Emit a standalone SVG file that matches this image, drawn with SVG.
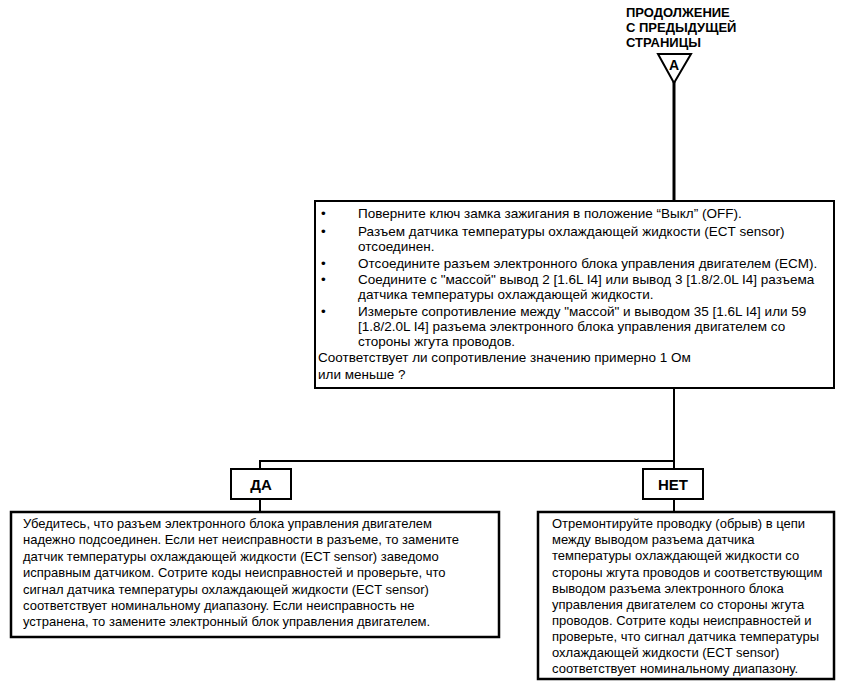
<svg xmlns="http://www.w3.org/2000/svg" width="843" height="681" viewBox="0 0 843 681">
<style>
.t{font-family:"Liberation Sans",Arial,sans-serif;font-size:13px;fill:#000}
.m{font-size:13.5px}
.b{font-family:"Liberation Sans",Arial,sans-serif;font-weight:bold;fill:#000}
.box{fill:#fff;stroke:#000;stroke-width:2}
.ln{fill:none;stroke:#000;stroke-width:2}
</style>
<rect width="843" height="681" fill="#fff"/>
<g id="connectors">
<line class="ln" x1="674" y1="82" x2="674" y2="201" style="stroke-width:3"/>
<polyline class="ln" points="674,388 674,461 260,461 260,469"/>
<line class="ln" x1="674" y1="461" x2="674" y2="469"/>
<line class="ln" x1="260" y1="499" x2="260" y2="512"/>
<line class="ln" x1="674" y1="499" x2="674" y2="512"/>
</g>
<g id="continuation">
<text class="b" font-size="13" x="626" y="17">ПРОДОЛЖЕНИЕ</text>
<text class="b" font-size="13" x="626" y="32">С ПРЕДЫДУЩЕЙ</text>
<text class="b" font-size="13" x="626" y="47">СТРАНИЦЫ</text>
<polygon points="658,54 691,54 674,83" fill="#fff" stroke="#000" stroke-width="2"/>
<text class="b" font-size="14" x="674" y="70" text-anchor="middle">A</text>
</g>
<g id="check">
<rect class="box" x="315" y="201" width="519" height="187"/>
<g class="t m">
<text x="321" y="218">•</text>
<text x="358" y="218">Поверните ключ замка зажигания в положение “Выкл” (OFF).</text>
<text x="321" y="236">•</text>
<text x="358" y="236">Разъем датчика температуры охлаждающей жидкости (ECT sensor)</text>
<text x="358" y="251">отсоединен.</text>
<text x="321" y="268">•</text>
<text x="358" y="268">Отсоедините разъем электронного блока управления двигателем (ECM).</text>
<text x="321" y="284">•</text>
<text x="358" y="284">Соедините с "массой" вывод 2 [1.6L I4] или вывод 3 [1.8/2.0L I4] разъема</text>
<text x="358" y="299">датчика температуры охлаждающей жидкости.</text>
<text x="321" y="316">•</text>
<text x="358" y="316">Измерьте сопротивление между "массой" и выводом 35 [1.6L I4] или 59</text>
<text x="358" y="331">[1.8/2.0L I4] разъема электронного блока управления двигателем со</text>
<text x="358" y="346">стороны жгута проводов.</text>
<text x="318" y="362">Соответствует ли сопротивление значению примерно 1 Ом</text>
<text x="318" y="379">или меньше ?</text>
</g>
</g>
<g id="yes">
<rect class="box" x="231" y="469" width="60" height="30"/>
<text class="b" font-size="15" x="261" y="490" text-anchor="middle">ДА</text>
</g>
<g id="no">
<rect class="box" x="643" y="469" width="60" height="30"/>
<text class="b" font-size="15" x="673" y="490" text-anchor="middle">НЕТ</text>
</g>
<g id="yes-action">
<rect class="box" x="11" y="512" width="488" height="125" style="stroke-width:2.5"/>
<text class="t" x="23" y="528">Убедитесь, что разъем электронного блока управления двигателем</text>
<text class="t" x="23" y="544">надежно подсоединен. Если нет неисправности в разъеме, то замените</text>
<text class="t" x="23" y="561">датчик температуры охлаждающей жидкости (ECT sensor) заведомо</text>
<text class="t" x="23" y="577">исправным датчиком. Сотрите коды неисправностей и проверьте, что</text>
<text class="t" x="23" y="594">сигнал датчика температуры охлаждающей жидкости (ECT sensor)</text>
<text class="t" x="23" y="610">соответствует номинальному диапазону. Если неисправность не</text>
<text class="t" x="23" y="626">устранена, то замените электронный блок управления двигателем.</text>
</g>
<g id="no-action">
<rect class="box" x="538" y="512" width="296" height="167" style="stroke-width:2.5"/>
<text class="t" x="552" y="528">Отремонтируйте проводку (обрыв) в цепи</text>
<text class="t" x="552" y="544">между выводом разъема датчика</text>
<text class="t" x="552" y="560">температуры охлаждающей жидкости со</text>
<text class="t" x="552" y="577">стороны жгута проводов и соответствующим</text>
<text class="t" x="552" y="593">выводом разъема электронного блока</text>
<text class="t" x="552" y="609">управления двигателем со стороны жгута</text>
<text class="t" x="552" y="625">проводов. Сотрите коды неисправностей и</text>
<text class="t" x="552" y="641">проверьте, что сигнал датчика температуры</text>
<text class="t" x="552" y="657">охлаждающей жидкости (ECT sensor)</text>
<text class="t" x="552" y="673">соответствует номинальному диапазону.</text>
</g>
</svg>
